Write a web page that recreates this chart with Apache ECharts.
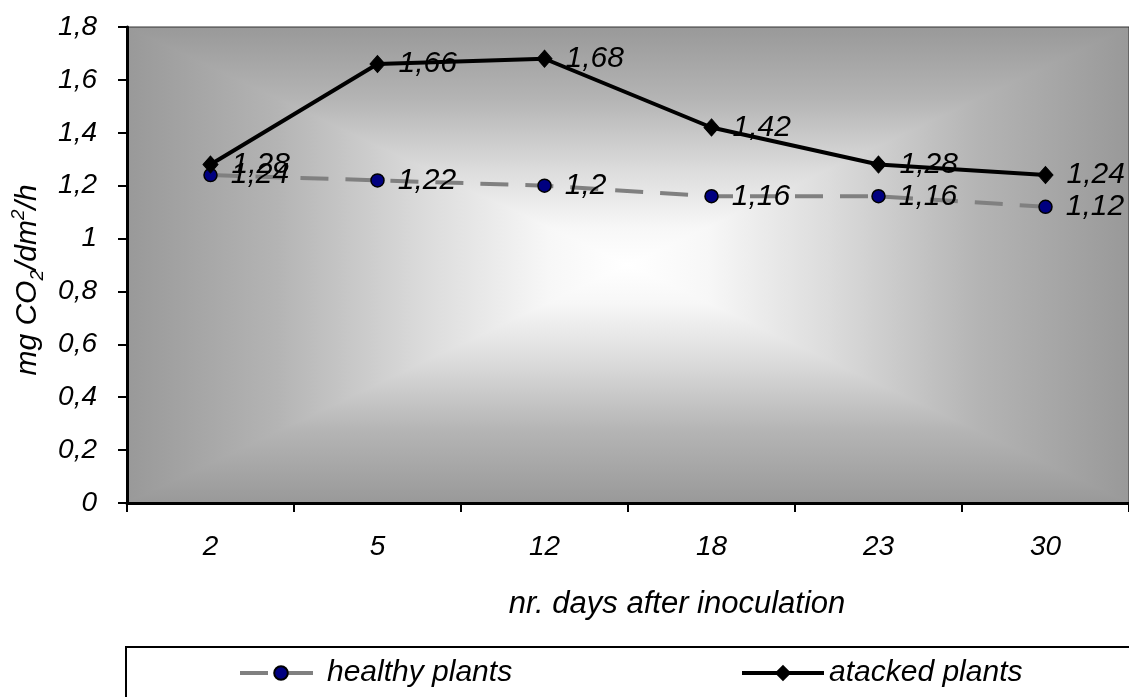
<!DOCTYPE html>
<html>
<head>
<meta charset="utf-8">
<title>CO2 - healthy vs atacked plants</title>
<script src="https://cdn.jsdelivr.net/npm/echarts@6/dist/echarts.min.js"></script>
<style>
	html, body { margin: 0; padding: 0; background: #fff; }
	#chart1 { width: 1129px; height: 697px; }
</style>
</head>
<body>
<div id="chart1"></div>
<script>
// days after inoculation
var categories = ['2', '5', '12', '18', '23', '30'];
var healthyValues = [1.24, 1.22, 1.2, 1.16, 1.16, 1.12];
var attackedValues = [1.28, 1.66, 1.68, 1.42, 1.28, 1.24];
var seriesNames = ['healthy plants', 'atacked plants'];

var FONT = '"Liberation Sans", Arial, sans-serif';
var GRID = {left: 127, top: 27, right: 0, bottom: 194};

function comma(v) {
	return String(+(+v).toFixed(2)).replace('.', ',');
}

var CHART = {
	init: function() {
		var that = this;
		var myChart = echarts.init(document.getElementById('chart1'), null, {renderer: 'canvas'});
		myChart.setOption(that.option(myChart.getWidth(), myChart.getHeight()));
	}, option: function(w, h) {
		var plotW = w - GRID.left - GRID.right;
		var plotH = h - GRID.top - GRID.bottom;
		var stopsH = [
			{offset: 0, color: '#999999'}, {offset: 0.15, color: '#b4b4b4'}, {offset: 0.3, color: '#dcdcdc'},
			{offset: 0.42, color: '#f7f7f7'}, {offset: 0.5, color: '#ffffff'},
			{offset: 0.58, color: '#f7f7f7'}, {offset: 0.7, color: '#dcdcdc'}, {offset: 0.85, color: '#b4b4b4'},
			{offset: 1, color: '#999999'}
		];

		var labelStyle = {show: true, position: 'right', distance: 13, color: '#000', fontFamily: FONT, fontStyle: 'italic', fontSize: 30, formatter: function(p) { return comma(p.value); }};
		var legendText = {color: '#000', fontFamily: FONT, fontStyle: 'italic', fontSize: 30};
		var legendBase = {top: 658, padding: 0, itemWidth: 82, itemHeight: 17, itemGap: 0, textStyle: legendText, lineStyle: {width: 4}};

		return {
			animation: false,
			backgroundColor: '#fff',
			textStyle: {fontFamily: FONT},
			grid: {left: GRID.left, top: GRID.top, right: GRID.right, bottom: GRID.bottom, containLabel: false, outerBoundsMode: 'none',
				show: true, backgroundColor: 'transparent', borderColor: '#333', borderWidth: 1},
			// rectangular "from centre" fill: horizontal ramp, vertical ramp darkened over it
			graphic: [
				{type: 'rect', z: -10, z2: 0, silent: true, shape: {x: GRID.left, y: GRID.top, width: plotW, height: plotH},
					style: {fill: new echarts.graphic.LinearGradient(0, 0, 1, 0, stopsH)}},
				{type: 'rect', z: -10, z2: 1, silent: true, shape: {x: GRID.left, y: GRID.top, width: plotW, height: plotH},
					style: {fill: new echarts.graphic.LinearGradient(0, 0, 0, 1, stopsH), blend: 'darken'}},
				{type: 'rect', z: 5, silent: true, shape: {x: 126, y: 647, width: 1020, height: 90},
					style: {fill: 'none', stroke: '#000', lineWidth: 2}}
			],
			legend: [
				echarts.util.extend({data: [seriesNames[0]], left: 238}, legendBase),
				echarts.util.extend({data: [seriesNames[1]], left: 740}, legendBase)
			],
			xAxis: {
				type: 'category', data: categories, boundaryGap: true,
				name: 'nr. days after inoculation', nameLocation: 'middle', nameGap: 86,
				nameTextStyle: {color: '#000', fontFamily: FONT, fontStyle: 'italic', fontSize: 31, padding: [0, 0, 0, 98]},
				axisLine: {show: true, lineStyle: {color: '#000', width: 3}},
				axisTick: {show: true, alignWithLabel: false, length: 9, lineStyle: {color: '#000', width: 2}},
				axisLabel: {color: '#000', fontFamily: FONT, fontStyle: 'italic', fontSize: 28, margin: 30},
				splitLine: {show: false}
			},
			yAxis: {
				type: 'value', min: 0, max: 1.8, interval: 0.2,
				name: '{n|mg CO}{sub|2}{n|/dm}{sup|2}{n|/h}', nameLocation: 'middle', nameGap: 80,
				nameTextStyle: {color: '#000', fontFamily: FONT, fontStyle: 'italic', fontSize: 30, padding: [0, 30, 0, 0],
					rich: {
						n: {color: '#000', fontFamily: FONT, fontStyle: 'italic', fontSize: 30, lineHeight: 38},
						sub: {color: '#000', fontFamily: FONT, fontStyle: 'italic', fontSize: 19, lineHeight: 19, verticalAlign: 'bottom'},
						sup: {color: '#000', fontFamily: FONT, fontStyle: 'italic', fontSize: 19, lineHeight: 19, verticalAlign: 'top'}
					}},
				axisLine: {show: true, lineStyle: {color: '#000', width: 3}},
				axisTick: {show: true, length: 9, lineStyle: {color: '#000', width: 2}},
				axisLabel: {color: '#000', fontFamily: FONT, fontStyle: 'italic', fontSize: 28, margin: 30, formatter: comma},
				splitLine: {show: false}
			},
			series: [
				{name: seriesNames[0], type: 'line', data: healthyValues,
					symbol: 'circle', symbolSize: 13,
					itemStyle: {color: '#000080', borderColor: '#000', borderWidth: 1.5},
					lineStyle: {color: '#808080', width: 4, type: [28, 17]},
					label: labelStyle},
				{name: seriesNames[1], type: 'line', data: attackedValues,
					symbol: 'diamond', symbolSize: [15, 17],
					itemStyle: {color: '#000', borderColor: '#000', borderWidth: 1},
					lineStyle: {color: '#000', width: 4, type: 'solid'},
					label: labelStyle}
			]
		};
	}
};

CHART.init();
</script>
</body>
</html>
